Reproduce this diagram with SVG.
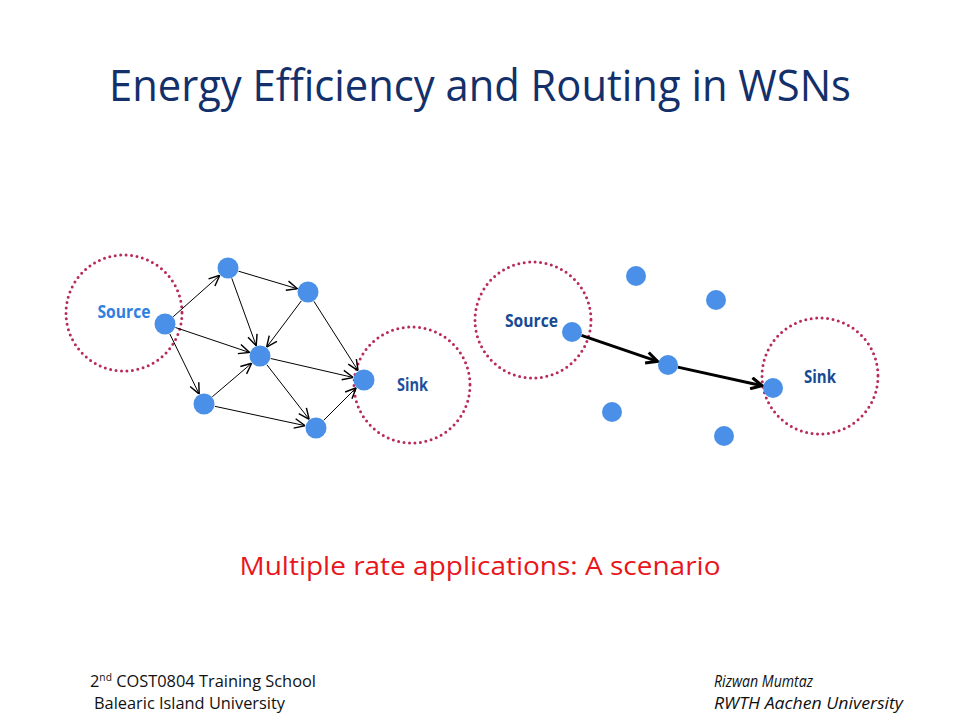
<svg xmlns="http://www.w3.org/2000/svg" width="960" height="720" viewBox="0 0 960 720">
<style>
.title{font-family:"Open Sans","Noto Sans",sans-serif;font-size:43px;fill:#13306a}
.sub{font-family:"Open Sans","Noto Sans",sans-serif;font-size:26px;fill:#e8161c}
.foot{font-family:"Open Sans","Noto Sans",sans-serif;font-size:16px;fill:#111}
.it{font-style:italic}
.zone{fill:none;stroke:#b82a5e;stroke-width:3;stroke-dasharray:0 5.5;stroke-linecap:round}
.node{fill:#4a90e8}
.lbl{font-family:"Open Sans","Noto Sans",sans-serif;font-weight:700;font-size:17.5px}
.e{stroke:#000;stroke-width:1;fill:none;marker-end:url(#a)}
.eb{stroke:#000;stroke-width:3;fill:none;marker-end:url(#b)}
</style>
<defs>
<marker id="a" markerUnits="userSpaceOnUse" markerWidth="12" markerHeight="12" viewBox="0 0 10 10" refX="10" refY="5" orient="auto"><path d="M1,1 L10,5 L1,9" fill="none" stroke="#000" stroke-width="1.2"/></marker>
<marker id="b" markerUnits="userSpaceOnUse" markerWidth="14" markerHeight="14" viewBox="0 0 10 10" refX="9" refY="5" orient="auto"><path d="M1,1 L9,5 L1,9" fill="none" stroke="#000" stroke-width="2.2"/></marker>
</defs>
<rect width="960" height="720" fill="#fff"/>
<text class="title" x="480" y="101" text-anchor="middle" textLength="742" lengthAdjust="spacingAndGlyphs">Energy Efficiency and Routing in WSNs</text>

<g id="zones">
<circle class="zone" cx="124" cy="313" r="58"/>
<circle class="zone" cx="412" cy="385" r="58"/>
<circle class="zone" cx="533" cy="320" r="58"/>
<circle class="zone" cx="820" cy="376" r="58"/>
</g>

<g id="connectors">
<line class="e" x1="173.2" y1="316.7" x2="219.8" y2="275.3"/>
<line class="e" x1="175.4" y1="327.5" x2="249.6" y2="352.5"/>
<line class="e" x1="169.8" y1="333.9" x2="199.2" y2="394.1"/>
<line class="e" x1="238.5" y1="271.2" x2="297.5" y2="288.8"/>
<line class="e" x1="231.8" y1="278.3" x2="256.2" y2="345.7"/>
<line class="e" x1="301.4" y1="300.8" x2="266.6" y2="347.2"/>
<line class="e" x1="313.9" y1="301.3" x2="358.1" y2="370.7"/>
<line class="e" x1="212.3" y1="396.8" x2="251.7" y2="363.2"/>
<line class="e" x1="214.8" y1="406.3" x2="305.2" y2="425.7"/>
<line class="e" x1="270.7" y1="358.5" x2="353.3" y2="377.5"/>
<line class="e" x1="266.8" y1="364.7" x2="309.2" y2="419.3"/>
<line class="e" x1="323.8" y1="420.2" x2="356.2" y2="387.8"/>
<line class="eb" x1="581.5" y1="335.3" x2="657.5" y2="361.4"/>
<line class="eb" x1="677.8" y1="367.1" x2="762.2" y2="385.7"/>
</g>

<g id="left-source"><circle class="node" cx="165" cy="324" r="10.5"/><text class="lbl" x="124" y="318" text-anchor="middle" fill="#2f7fe0" textLength="53" lengthAdjust="spacingAndGlyphs">Source</text></g>
<g id="left-n1"><circle class="node" cx="228" cy="268" r="10.5"/></g>
<g id="left-n2"><circle class="node" cx="308" cy="292" r="10.5"/></g>
<g id="left-center"><circle class="node" cx="260" cy="356" r="10.5"/></g>
<g id="left-n4"><circle class="node" cx="204" cy="404" r="10.5"/></g>
<g id="left-n5"><circle class="node" cx="316" cy="428" r="10.5"/></g>
<g id="left-sink"><circle class="node" cx="364" cy="380" r="10.5"/><text class="lbl" x="397" y="391" fill="#1c4f9c" textLength="31" lengthAdjust="spacingAndGlyphs">Sink</text></g>

<g id="right-source"><circle class="node" cx="572" cy="332" r="10"/><text class="lbl" x="505" y="327" fill="#174a94" textLength="53" lengthAdjust="spacingAndGlyphs">Source</text></g>
<g id="right-a"><circle class="node" cx="636" cy="276" r="10"/></g>
<g id="right-b"><circle class="node" cx="716" cy="300" r="10"/></g>
<g id="right-middle"><circle class="node" cx="668" cy="365" r="10"/></g>
<g id="right-c"><circle class="node" cx="612" cy="412" r="10"/></g>
<g id="right-d"><circle class="node" cx="724" cy="436" r="10"/></g>
<g id="right-sink"><circle class="node" cx="773" cy="388" r="10"/><text class="lbl" x="804" y="383" fill="#174a94" textLength="32" lengthAdjust="spacingAndGlyphs">Sink</text></g>

<text class="sub" x="480" y="575" text-anchor="middle" textLength="481" lengthAdjust="spacingAndGlyphs">Multiple rate applications: A scenario</text>

<text class="foot" x="90" y="687" textLength="226" lengthAdjust="spacingAndGlyphs">2<tspan font-size="10" dy="-6">nd</tspan><tspan dy="6"> COST0804 Training School</tspan></text>
<text class="foot" x="94" y="709" textLength="191" lengthAdjust="spacingAndGlyphs">Balearic Island University</text>
<text class="foot it" x="714" y="687" textLength="99" lengthAdjust="spacingAndGlyphs">Rizwan Mumtaz</text>
<text class="foot it" x="714" y="709" textLength="189" lengthAdjust="spacingAndGlyphs">RWTH Aachen University</text>
</svg>
